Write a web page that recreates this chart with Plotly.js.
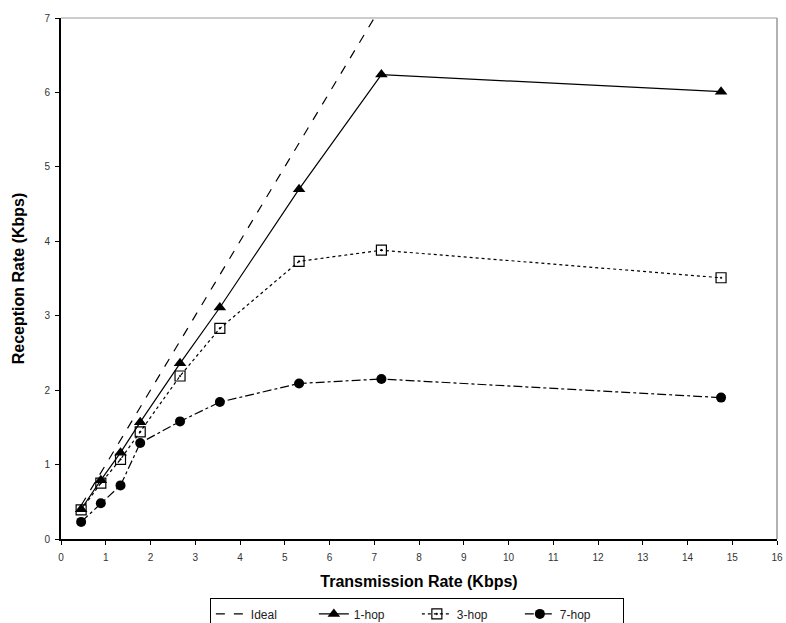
<!DOCTYPE html>
<html>
<head>
<meta charset="utf-8">
<script src="https://cdn.plot.ly/plotly-3.0.1.min.js"></script>
<style>html,body{margin:0;padding:0;background:#fff;}#chart{width:786px;height:623px;}</style>
</head>
<body>
<div id="chart"></div>
<script>
const txRate = [0.45, 0.89, 1.33, 1.77, 2.66, 3.55, 5.32, 7.16, 14.75];
const ideal  = [0.45, 0.89, 1.33, 1.77, 2.66, 3.55, 5.32, 7.16, 14.75];
const hop1   = [0.40, 0.79, 1.16, 1.57, 2.36, 3.11, 4.70, 6.24, 6.01];
const hop3   = [0.39, 0.75, 1.07, 1.44, 2.19, 2.83, 3.73, 3.88, 3.51];
const hop7   = [0.23, 0.48, 0.72, 1.29, 1.58, 1.84, 2.09, 2.15, 1.90];
const seriesNames = ['Ideal', '1-hop', '3-hop', '7-hop'];

const traces = [
  {x: txRate, y: ideal, name: seriesNames[0], mode: 'lines',
   line: {color: '#000', width: 1.2, dash: 'dash'}},
  {x: txRate, y: hop1, name: seriesNames[1], mode: 'lines+markers',
   line: {color: '#000', width: 1.2},
   marker: {symbol: 'triangle-up', size: 11, color: '#000'}},
  {x: txRate, y: hop3, name: seriesNames[2], mode: 'lines+markers',
   line: {color: '#000', width: 1.2, dash: 'dot'},
   marker: {symbol: 'square-open-dot', size: 10, color: '#000', line: {width: 1.2}}},
  {x: txRate, y: hop7, name: seriesNames[3], mode: 'lines+markers',
   line: {color: '#000', width: 1.2, dash: 'dashdot'},
   marker: {symbol: 'circle', size: 10, color: '#000'}}
];

const layout = {
  width: 786, height: 623,
  margin: {l: 61, r: 9, t: 18, b: 84, autoexpand: false},
  paper_bgcolor: '#fff', plot_bgcolor: '#fff',
  font: {family: 'Liberation Sans, Arial, sans-serif', color: '#000'},
  showlegend: true,
  legend: {orientation: 'h', x: 0.497, xanchor: 'center', y: -0.114, yanchor: 'top',
           bordercolor: '#000', borderwidth: 1, font: {size: 12, color: '#222'},
           entrywidth: 58, entrywidthmode: 'pixels', tracegroupgap: 0},
  xaxis: {range: [0, 16], dtick: 1, tick0: 0, showgrid: false, zeroline: false,
          showline: true, linecolor: '#000', linewidth: 2,
          ticks: 'outside', ticklen: 4, tickcolor: '#000',
          tickfont: {size: 10, color: '#333'}, ticklabelstandoff: 4,
          automargin: false,
          title: {text: 'Transmission Rate (Kbps)', font: {size: 16, color: '#000', weight: 'bold'}, standoff: 14}},
  yaxis: {range: [0, 7], dtick: 1, tick0: 0, showgrid: false, zeroline: false,
          showline: true, linecolor: '#000', linewidth: 2,
          ticks: 'outside', ticklen: 4, tickcolor: '#000',
          tickfont: {size: 10, color: '#333'}, ticklabelstandoff: 3,
          automargin: false,
          title: {text: 'Reception Rate (Kbps)', font: {size: 16, color: '#000', weight: 'bold'}, standoff: 16}},
  shapes: [
    {type: 'line', xref: 'paper', yref: 'paper', x0: 0, x1: 1, y0: 1, y1: 1, line: {color: '#bbb', width: 1.5}},
    {type: 'line', xref: 'paper', yref: 'paper', x0: 1, x1: 1, y0: 0, y1: 1, line: {color: '#999', width: 1.5}}
  ]
};

Plotly.newPlot('chart', traces, layout, {displayModeBar: false, staticPlot: true});
</script>
</body>
</html>
